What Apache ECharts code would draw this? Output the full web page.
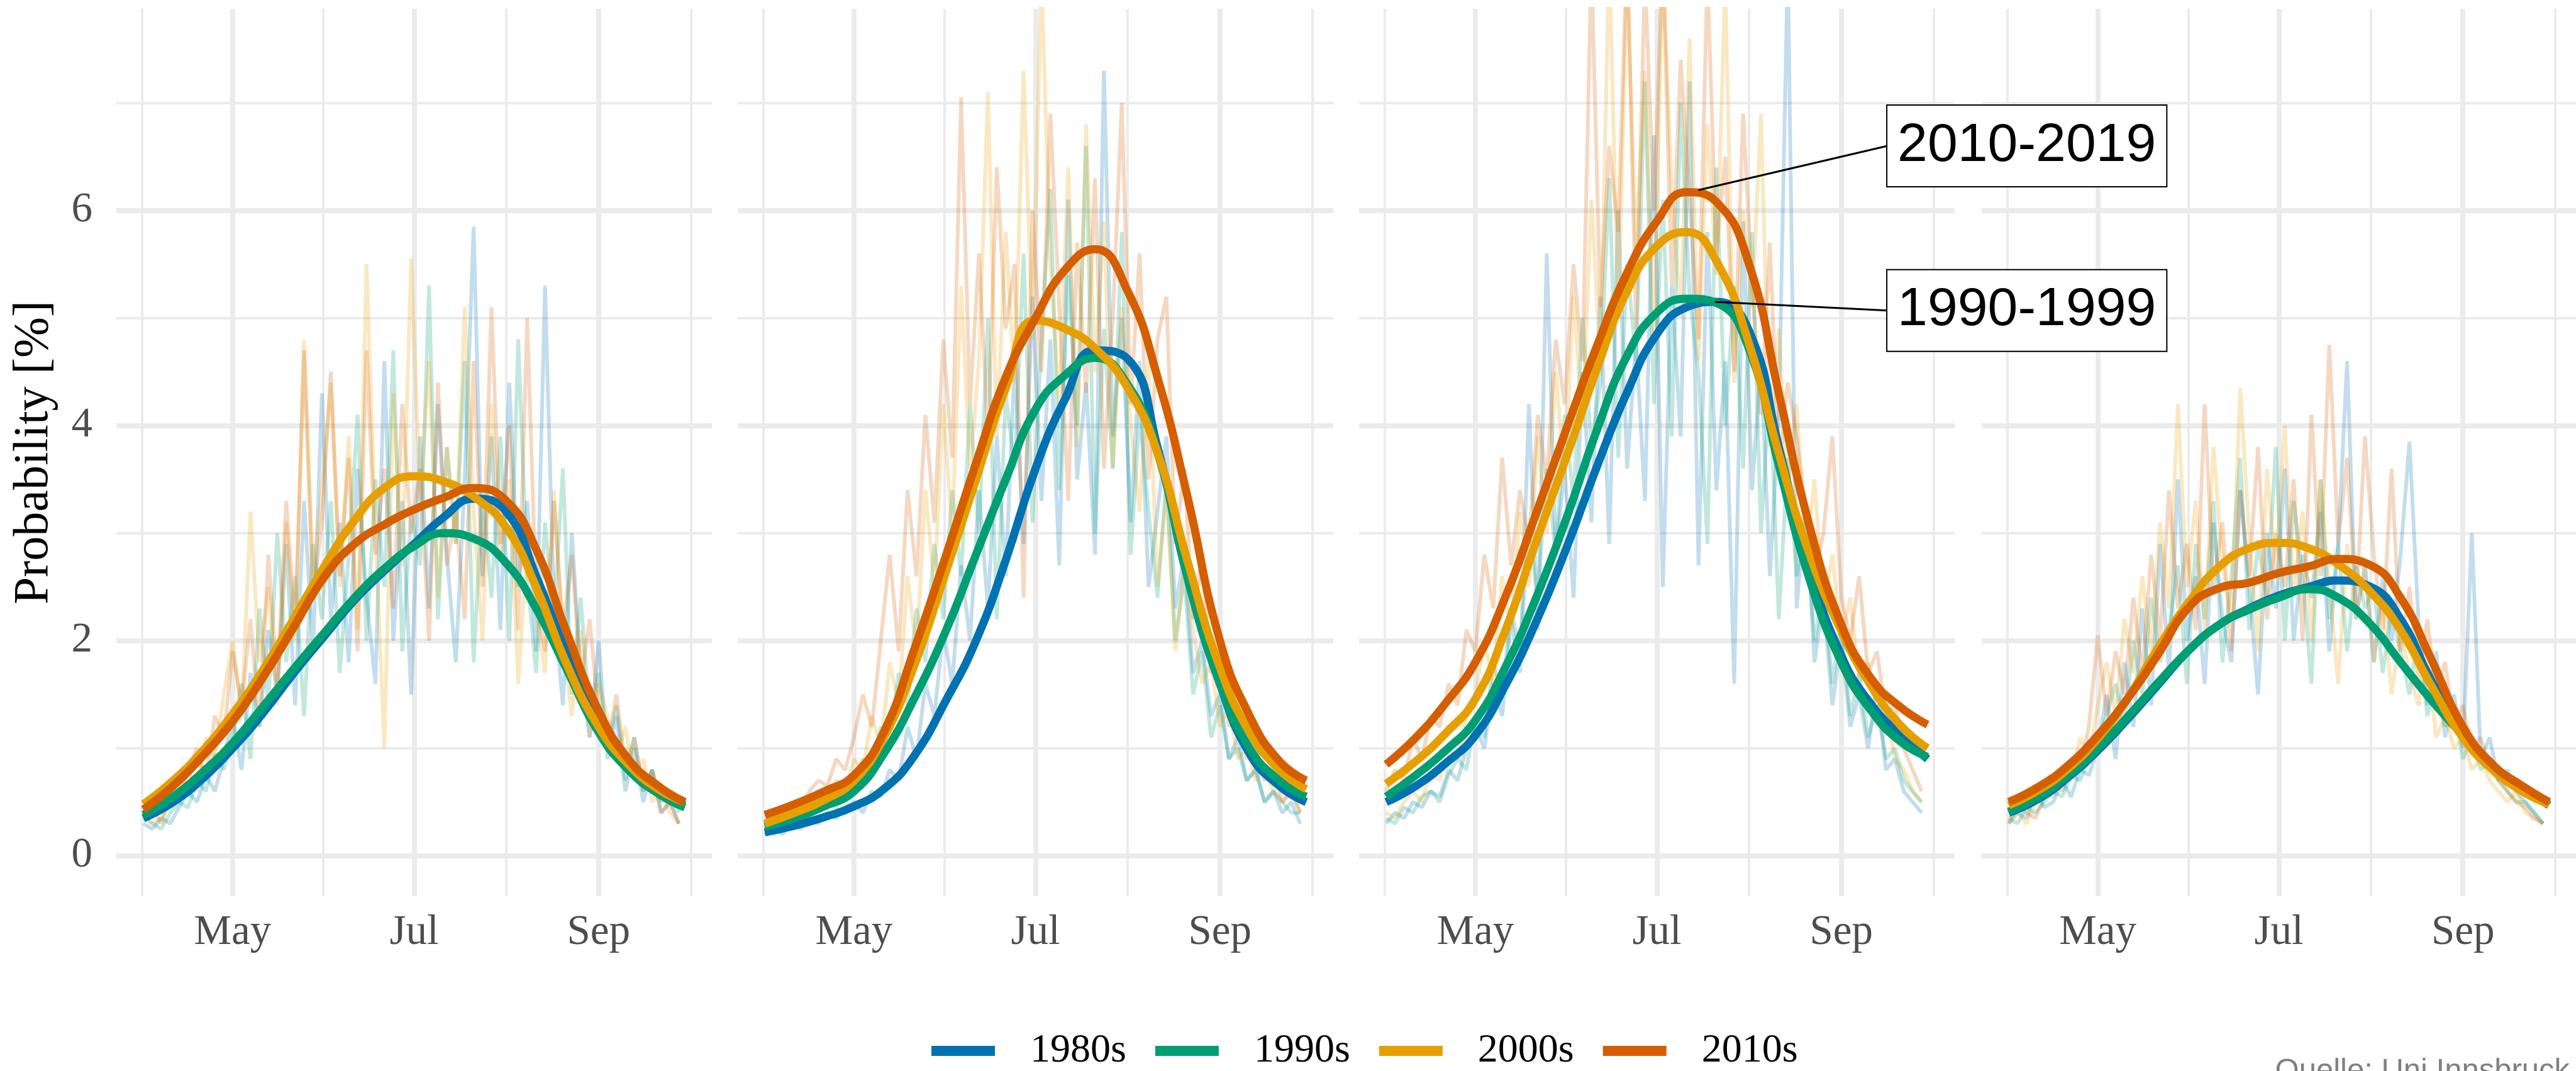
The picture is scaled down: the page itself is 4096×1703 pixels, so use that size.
<!DOCTYPE html>
<html>
<head>
<meta charset="utf-8">
<script src="https://cdn.jsdelivr.net/npm/echarts@6/dist/echarts.min.js"></script>
<style>
  html, body { margin: 0; padding: 0; background: #fff; }
  #chart { width: 4096px; height: 1703px; }
</style>
</head>
<body>
<div id="chart"></div>
<script>
// decades and their colours (Okabe-Ito)
var decades = ['1980s', '1990s', '2000s', '2010s'];
var decadeColors = ['#0072B2', '#009E73', '#E69F00', '#D55E00'];

// x axis = day of year; labelled months and the in-between gridlines
var majorDays = [121, 182, 244];
var minorDays = [90.5, 151.5, 213, 275];
var monthLabels = { 121: 'May', 182: 'Jul', 244: 'Sep' };
var majorProb = [0, 2, 4, 6];
var minorProb = [1, 3, 5, 7];

// smoothed curves
var smoothDays = [91, 101, 111, 121, 131, 141, 152, 162, 172, 182, 192, 202, 213, 223, 233, 244, 254, 264, 273];

var p1Smooth1980s = [0.35, 0.5, 0.72, 1.0, 1.32, 1.68, 2.05, 2.38, 2.65, 2.9, 3.15, 3.32, 3.2, 2.6, 1.9, 1.2, 0.85, 0.6, 0.47];
var p1Smooth1990s = [0.38, 0.55, 0.78, 1.05, 1.38, 1.72, 2.08, 2.4, 2.67, 2.88, 3.0, 2.95, 2.72, 2.3, 1.75, 1.15, 0.8, 0.58, 0.45];
var p1Smooth2000s = [0.48, 0.7, 0.98, 1.32, 1.72, 2.18, 2.7, 3.12, 3.42, 3.53, 3.48, 3.34, 3.05, 2.5, 1.8, 1.2, 0.85, 0.62, 0.5];
var p1Smooth2010s = [0.43, 0.65, 0.93, 1.25, 1.65, 2.1, 2.6, 2.9, 3.08, 3.22, 3.33, 3.42, 3.3, 2.85, 2.1, 1.35, 0.9, 0.65, 0.5];

var p2Smooth1980s = [0.22, 0.28, 0.36, 0.46, 0.62, 0.92, 1.45, 2.0, 2.75, 3.6, 4.25, 4.7, 4.62, 3.8, 2.6, 1.6, 0.95, 0.65, 0.5];
var p2Smooth1990s = [0.27, 0.35, 0.46, 0.6, 0.95, 1.45, 2.1, 2.8, 3.5, 4.15, 4.47, 4.63, 4.38, 3.75, 2.6, 1.6, 1.0, 0.7, 0.55];
var p2Smooth2000s = [0.3, 0.4, 0.52, 0.7, 1.1, 1.75, 2.65, 3.5, 4.35, 4.98, 4.9, 4.72, 4.35, 3.75, 2.75, 1.75, 1.15, 0.8, 0.62];
var p2Smooth2010s = [0.38, 0.48, 0.6, 0.75, 1.15, 1.9, 2.8, 3.65, 4.45, 5.0, 5.45, 5.64, 5.25, 4.45, 3.35, 2.0, 1.3, 0.88, 0.7];

var p3Smooth1980s = [0.5, 0.65, 0.86, 1.12, 1.58, 2.15, 2.89, 3.63, 4.31, 4.85, 5.1, 5.15, 4.88, 3.8, 2.71, 1.86, 1.41, 1.12, 0.9];
var p3Smooth1990s = [0.55, 0.75, 0.98, 1.26, 1.75, 2.37, 3.17, 3.97, 4.65, 5.05, 5.18, 5.14, 4.71, 3.63, 2.6, 1.8, 1.35, 1.06, 0.92];
var p3Smooth2000s = [0.67, 0.88, 1.14, 1.46, 2.09, 2.89, 3.74, 4.54, 5.25, 5.67, 5.8, 5.53, 4.76, 3.74, 2.83, 2.09, 1.58, 1.21, 1.0];
var p3Smooth2010s = [0.85, 1.1, 1.42, 1.8, 2.4, 3.15, 4.0, 4.75, 5.42, 5.9, 6.17, 6.08, 5.5, 4.3, 3.1, 2.15, 1.65, 1.38, 1.22];

var p4Smooth1980s = [0.4, 0.53, 0.73, 0.98, 1.27, 1.58, 1.92, 2.15, 2.3, 2.42, 2.5, 2.56, 2.5, 2.2, 1.65, 1.15, 0.82, 0.62, 0.48];
var p4Smooth1990s = [0.41, 0.55, 0.75, 1.0, 1.29, 1.6, 1.92, 2.15, 2.29, 2.4, 2.48, 2.4, 2.15, 1.8, 1.46, 1.12, 0.84, 0.64, 0.47];
var p4Smooth2000s = [0.47, 0.61, 0.81, 1.09, 1.46, 1.92, 2.37, 2.69, 2.86, 2.91, 2.86, 2.71, 2.45, 2.1, 1.6, 1.1, 0.8, 0.6, 0.48];
var p4Smooth2010s = [0.5, 0.64, 0.84, 1.12, 1.46, 1.86, 2.32, 2.49, 2.54, 2.63, 2.69, 2.76, 2.7, 2.4, 1.85, 1.2, 0.85, 0.65, 0.5];

// daily values (faint lines), estimated every third day
var rawDays = [91, 94, 97, 100, 103, 106, 109, 112, 115, 118, 121, 124, 127, 130, 133, 136, 139, 142, 145, 148,
  151, 154, 157, 160, 163, 166, 169, 172, 175, 178, 181, 184, 187, 190, 193, 196, 199, 202, 205, 208,
  211, 214, 217, 220, 223, 226, 229, 232, 235, 238, 241, 244, 247, 250, 253, 256, 259, 262, 265, 268, 271];

var p1Raw1980s = [0.3, 0.25, 0.35, 0.3, 0.45, 0.6, 0.5, 0.75, 0.6, 0.9,
  1.3, 0.8, 1.7, 1.2, 2.1, 1.5, 2.9, 1.4, 3.3, 1.9, 4.3,
  2.2, 3.1, 1.8, 3.6, 2.4, 1.6, 4.6, 2.0, 3.3, 1.5,
  3.9, 2.3, 4.2, 2.8, 1.8, 3.5, 5.85, 2.6, 3.9, 2.1,
  4.4, 2.5, 3.3, 1.9, 5.3, 2.3, 1.4, 3.0, 1.7, 1.1,
  2.0, 0.9, 1.3, 0.6, 1.0, 0.5, 0.8, 0.4, 0.5, 0.3];
var p1Raw1990s = [0.35, 0.3, 0.25, 0.4, 0.5, 0.45, 0.7, 0.6, 0.95, 0.8,
  1.1, 1.6, 0.9, 2.3, 1.4, 3.0, 1.8, 2.6, 1.3, 2.9, 2.2,
  3.3, 1.7, 2.8, 4.1, 2.0, 3.5, 2.5, 4.7, 1.9, 3.2,
  2.7, 5.3, 2.2, 3.8, 2.9, 4.6, 1.8, 3.4, 2.4, 3.9,
  2.0, 4.8, 2.6, 1.7, 3.1, 2.2, 3.6, 1.5, 2.4, 1.3,
  1.7, 1.0, 1.4, 0.7, 1.1, 0.6, 0.8, 0.5, 0.6, 0.4];
var p1Raw2000s = [0.4, 0.3, 0.35, 0.5, 0.6, 0.8, 0.6, 1.1, 0.9, 1.5,
  2.0, 1.3, 3.2, 1.8, 2.5, 1.4, 3.1, 2.0, 4.8, 2.6, 3.4,
  4.4, 2.5, 3.9, 2.1, 5.5, 3.0, 1.0, 4.3, 2.7, 5.55,
  3.3, 4.6, 2.4, 3.8, 2.9, 5.1, 3.2, 2.0, 4.2, 2.8,
  3.5, 1.6, 2.9, 2.3, 1.7, 3.4, 2.0, 1.3, 2.1, 1.1,
  1.6, 1.3, 0.9, 1.2, 0.7, 0.9, 0.5, 0.6, 0.4, 0.3];
var p1Raw2010s = [0.35, 0.45, 0.3, 0.55, 0.5, 0.8, 1.0, 0.7, 1.3, 1.1,
  1.9, 1.4, 2.2, 1.2, 2.8, 1.6, 3.3, 2.1, 4.7, 2.4, 3.1,
  4.5, 2.6, 3.7, 1.9, 4.7, 2.8, 3.6, 2.3, 4.2, 3.0,
  3.6, 2.0, 4.4, 2.7, 3.2, 2.2, 4.6, 2.5, 5.1, 2.9,
  4.0, 2.1, 5.0, 2.4, 1.9, 3.3, 2.1, 2.8, 1.6, 2.2,
  1.3, 1.0, 1.5, 0.8, 1.1, 0.6, 0.8, 0.4, 0.5, 0.3];

var p2Raw1980s = [0.2, 0.25, 0.2, 0.3, 0.25, 0.35, 0.3, 0.4, 0.35, 0.45,
  0.5, 0.4, 0.6, 0.55, 0.8, 0.7, 1.2, 0.9, 1.6, 1.3, 2.1,
  1.6, 2.7, 2.0, 3.4, 2.3, 3.9, 2.6, 4.6, 2.9, 5.2,
  3.3, 4.8, 2.7, 6.1, 3.5, 4.4, 2.8, 7.3, 3.9, 5.0,
  3.1, 4.6, 2.5, 3.2, 3.9, 2.3, 2.8, 1.7, 2.0, 1.3,
  1.5, 0.9, 1.1, 0.7, 0.8, 0.5, 0.6, 0.4, 0.5, 0.3];
var p2Raw1990s = [0.25, 0.2, 0.3, 0.35, 0.3, 0.4, 0.45, 0.5, 0.45, 0.6,
  0.7, 0.9, 0.75, 1.2, 1.0, 1.7, 1.4, 2.3, 1.8, 2.9, 2.2,
  3.4, 2.6, 4.2, 3.0, 5.0, 2.2, 4.3, 3.6, 5.6, 3.1,
  4.8, 6.2, 3.4, 5.4, 4.0, 6.6, 3.0, 4.9, 3.6, 5.8,
  2.8, 4.1, 3.2, 2.4, 3.5, 2.0, 2.6, 1.5, 1.9, 1.1,
  1.4, 0.9, 1.0, 0.7, 0.8, 0.5, 0.6, 0.5, 0.4, 0.4];
var p2Raw2000s = [0.3, 0.25, 0.35, 0.3, 0.45, 0.4, 0.55, 0.5, 0.7, 0.6,
  0.9, 0.8, 1.3, 1.0, 1.8, 1.4, 2.6, 1.9, 3.4, 2.5, 4.2,
  3.0, 5.3, 3.6, 4.6, 7.1, 3.9, 5.8, 4.4, 7.3, 4.8,
  8.2, 5.5, 4.2, 6.4, 3.8, 6.8, 4.5, 5.9, 3.6, 5.1,
  4.0, 3.2, 4.6, 2.5, 3.4, 1.9, 2.7, 2.1, 1.6, 1.8,
  1.2, 1.4, 0.9, 1.0, 0.7, 0.8, 0.6, 0.5, 0.6, 0.4];
var p2Raw2010s = [0.3, 0.4, 0.35, 0.5, 0.45, 0.6, 0.7, 0.65, 0.9, 0.8,
  1.1, 1.5, 1.2, 2.0, 2.8, 1.9, 3.4, 2.6, 4.1, 3.1, 4.8,
  3.7, 7.05, 4.2, 5.6, 3.9, 6.4, 4.9, 5.5, 2.4, 6.0,
  4.5, 6.9, 5.1, 3.3, 5.7, 4.3, 6.3, 3.6, 5.0, 7.0,
  4.2, 5.6, 3.5, 4.8, 5.2, 2.9, 3.6, 2.2, 2.8, 1.7,
  1.9, 1.2, 1.4, 0.9, 1.0, 0.7, 0.8, 0.5, 0.6, 0.4];

var p3Raw1980s = [0.3, 0.4, 0.35, 0.5, 0.45, 0.6, 0.55, 0.8, 0.7, 1.0,
  1.2, 1.0, 1.6, 1.3, 2.2, 1.7, 4.2, 2.1, 5.6, 2.8, 3.6,
  2.4, 4.5, 3.1, 5.2, 2.9, 6.0, 3.6, 4.8, 3.3, 6.7,
  2.5, 5.3, 3.9, 7.2, 2.7, 5.8, 3.4, 4.6, 1.6, 5.9,
  3.4, 4.6, 2.6, 4.1, 8.3, 2.3, 3.3, 1.8, 2.4, 1.4,
  2.0, 1.2, 1.5, 1.0, 1.6, 0.8, 0.9, 0.6, 0.5, 0.4];
var p3Raw1990s = [0.35, 0.3, 0.45, 0.4, 0.55, 0.6, 0.5, 0.75, 0.9, 0.8,
  1.3, 1.1, 1.8, 1.5, 2.3, 1.9, 3.0, 2.4, 3.6, 2.8, 4.1,
  3.3, 5.0, 3.8, 4.4, 6.3, 3.7, 5.5, 4.6, 7.2, 4.2,
  6.1, 3.9, 7.0, 5.2, 4.5, 2.9, 6.4, 4.0, 5.3, 3.6,
  5.8, 3.0, 4.4, 2.2, 3.7, 2.6, 3.1, 2.0, 2.5, 1.6,
  2.2, 1.3, 1.7, 1.1, 1.4, 0.9, 1.0, 0.7, 0.6, 0.5];
var p3Raw2000s = [0.4, 0.35, 0.5, 0.6, 0.5, 0.8, 0.7, 1.0, 0.9, 1.3,
  1.5, 2.0, 1.6, 2.6, 2.1, 3.2, 2.5, 3.9, 3.0, 4.5, 3.5,
  5.2, 4.0, 6.1, 4.6, 8.4, 5.0, 8.2, 5.6, 7.3, 4.8,
  8.3, 6.2, 5.0, 7.6, 4.6, 6.8, 5.4, 8.1, 4.4, 6.0,
  5.1, 6.9, 3.8, 4.9, 3.4, 4.2, 2.7, 3.5, 2.3, 2.8,
  2.0, 2.4, 1.6, 1.8, 1.2, 1.4, 0.9, 0.8, 0.6, 0.5];
var p3Raw2010s = [0.6, 0.8, 0.7, 1.1, 0.9, 1.3, 1.2, 1.6, 1.4, 2.1,
  1.9, 2.8, 2.3, 3.7, 2.7, 3.4, 2.9, 4.1, 3.5, 4.8, 4.2,
  5.5, 4.6, 8.3, 5.1, 6.6, 5.8, 8.5, 4.9, 8.2, 6.0,
  8.4, 5.3, 7.4, 6.1, 4.8, 8.2, 5.6, 6.5, 4.5, 6.9,
  5.3, 4.1, 5.7, 3.6, 4.4, 3.9, 3.2, 2.6, 3.0, 3.9,
  2.4, 2.0, 2.6, 1.7, 1.9, 1.3, 1.4, 1.0, 0.8, 0.6];

var p4Raw1980s = [0.3, 0.4, 0.35, 0.6, 0.45, 0.5, 0.7, 0.55, 0.8, 0.75,
  1.0, 1.5, 0.9, 1.8, 1.2, 2.3, 1.4, 2.9, 1.7, 3.5, 2.0,
  2.6, 1.6, 3.1, 2.2, 1.8, 3.4, 2.5, 1.5, 3.0, 2.3,
  3.6, 2.0, 2.8, 2.4, 3.2, 1.9, 2.9, 4.6, 2.2, 2.7,
  1.8, 2.6, 2.0, 2.8, 3.85, 2.2, 1.4, 1.9, 1.1, 1.5,
  1.0, 3.0, 0.9, 1.1, 0.7, 0.8, 0.6, 0.5, 0.4, 0.3];
var p4Raw1990s = [0.35, 0.3, 0.45, 0.4, 0.5, 0.6, 0.55, 0.75, 0.7, 0.9,
  1.1, 1.3, 1.6, 1.2, 2.0, 1.5, 2.4, 1.8, 2.1, 2.7, 1.6,
  2.9, 2.2, 3.3, 1.8, 2.6, 3.7, 2.1, 2.9, 2.4, 3.8,
  2.0, 3.3, 2.6, 1.6, 3.5, 2.2, 2.9, 1.9, 2.7, 2.3,
  2.5, 1.7, 2.3, 1.9, 1.5, 2.1, 1.3, 1.6, 1.2, 1.4,
  0.9, 1.1, 0.8, 0.9, 0.7, 0.6, 0.5, 0.5, 0.4, 0.3];
var p4Raw2000s = [0.35, 0.4, 0.3, 0.5, 0.6, 0.55, 0.8, 0.7, 1.1, 0.9,
  1.4, 1.8, 1.3, 2.2, 1.7, 2.6, 1.9, 3.1, 2.3, 4.2, 2.5,
  3.3, 2.1, 3.8, 2.7, 2.2, 4.35, 3.0, 1.9, 3.6, 2.6,
  4.0, 2.4, 3.2, 2.0, 3.5, 2.5, 1.6, 2.9, 2.2, 2.7,
  1.8, 2.4, 1.5, 2.1, 1.7, 1.4, 1.9, 1.1, 1.3, 1.0,
  1.1, 0.8, 0.9, 0.7, 0.6, 0.5, 0.6, 0.4, 0.35, 0.3];
var p4Raw2010s = [0.3, 0.45, 0.4, 0.35, 0.55, 0.7, 0.6, 0.9, 0.8, 1.2,
  2.05, 1.3, 1.9, 1.5, 2.4, 1.7, 2.8, 2.0, 3.4, 2.3, 2.9,
  2.1, 4.2, 2.5, 3.1, 1.9, 3.4, 2.6, 3.8, 2.2, 3.0,
  2.5, 3.5, 2.0, 4.1, 2.6, 4.75, 2.9, 3.7, 2.3, 3.9,
  2.8, 2.1, 3.6, 1.9, 2.5, 1.6, 2.2, 1.5, 1.8, 1.2,
  1.4, 1.0, 1.1, 0.8, 0.7, 0.6, 0.5, 0.45, 0.35, 0.3];

// labelled peaks in the third panel
var annLabels = ['2010-2019', '1990-1999'];
var annAnchorDay = [196, 201.6];
var annAnchorProb = [6.19, 5.15];
var annBoxDay = [259.5, 259.5];
var annBoxProb = [6.6, 5.07];

var panelSmooth = [
  [p1Smooth1980s, p1Smooth1990s, p1Smooth2000s, p1Smooth2010s],
  [p2Smooth1980s, p2Smooth1990s, p2Smooth2000s, p2Smooth2010s],
  [p3Smooth1980s, p3Smooth1990s, p3Smooth2000s, p3Smooth2010s],
  [p4Smooth1980s, p4Smooth1990s, p4Smooth2000s, p4Smooth2010s]
];
var panelRaw = [
  [p1Raw1980s, p1Raw1990s, p1Raw2000s, p1Raw2010s],
  [p2Raw1980s, p2Raw1990s, p2Raw2000s, p2Raw2010s],
  [p3Raw1980s, p3Raw1990s, p3Raw2000s, p3Raw2010s],
  [p4Raw1980s, p4Raw1990s, p4Raw2000s, p4Raw2010s]
];

var gridLefts = [185, 1173, 2161, 3151];
var gridColor = '#ebebeb';

var chart = echarts.init(document.getElementById('chart'));

var grids = [], xAxes = [], yAxes = [], series = [];

gridLefts.forEach(function (left, p) {
  grids.push({ left: left, top: 14, width: 947, height: 1411 });

  // major x axis (labels + thick gridlines)
  xAxes.push({
    type: 'value', gridIndex: p, min: 81.9, max: 282.1,
    axisLine: { show: false, onZero: false },
    axisTick: { show: false, customValues: majorDays },
    axisLabel: {
      customValues: majorDays,
      formatter: function (v) { return monthLabels[v] || ''; },
      margin: 25, fontSize: 67, color: '#4d4d4d', fontFamily: 'Liberation Serif'
    },
    splitLine: { show: true, lineStyle: { color: gridColor, width: 8 } }
  });
  // minor x axis (thin gridlines only)
  xAxes.push({
    type: 'value', gridIndex: p, min: 81.9, max: 282.1,
    axisLine: { show: false, onZero: false },
    axisTick: { show: false, customValues: minorDays },
    axisLabel: { show: false },
    splitLine: { show: true, lineStyle: { color: gridColor, width: 4 } }
  });

  yAxes.push({
    type: 'value', gridIndex: p, min: -0.375, max: 7.875,
    axisLine: { show: false, onZero: false },
    axisTick: { show: false, customValues: majorProb },
    axisLabel: {
      show: p === 0, customValues: majorProb,
      margin: 38, fontSize: 67, color: '#4d4d4d', fontFamily: 'Liberation Serif'
    },
    splitLine: { show: true, lineStyle: { color: gridColor, width: 8 } },
    name: p === 0 ? 'Probability [%]' : '',
    nameLocation: 'middle', nameGap: 91,
    nameTextStyle: { fontSize: 78, color: '#000', fontFamily: 'Liberation Serif' }
  });
  yAxes.push({
    type: 'value', gridIndex: p, min: -0.375, max: 7.875,
    axisLine: { show: false, onZero: false },
    axisTick: { show: false, customValues: minorProb },
    axisLabel: { show: false },
    splitLine: { show: true, lineStyle: { color: gridColor, width: 4 } }
  });

  // faint daily lines
  decades.forEach(function (d, k) {
    series.push({
      type: 'line', name: d + ' daily',
      xAxisIndex: 2 * p, yAxisIndex: 2 * p,
      data: rawDays.map(function (x, i) { return [x, panelRaw[p][k][i]]; }),
      symbol: 'none', silent: true, clip: true, z: 2,
      lineStyle: { color: decadeColors[k], width: 6, opacity: 0.24 },
      itemStyle: { color: decadeColors[k] }
    });
  });
  // smoothed curves
  decades.forEach(function (d, k) {
    series.push({
      type: 'line', name: d,
      xAxisIndex: 2 * p, yAxisIndex: 2 * p,
      data: smoothDays.map(function (x, i) { return [x, panelSmooth[p][k][i]]; }),
      smooth: true, symbol: 'none', clip: true, z: 3,
      lineStyle: { color: decadeColors[k], width: 13 },
      itemStyle: { color: decadeColors[k] }
    });
  });
});

var option = {
  animation: false,
  backgroundColor: '#fff',
  title: {
    text: 'Quelle: Uni Innsbruck', right: 10, top: 1679, padding: 0,
    textStyle: { fontSize: 49, fontWeight: 'normal', color: '#808080', fontFamily: 'Liberation Sans' }
  },
  legend: {
    data: decades, left: 1476, top: 1634,
    icon: 'rect', itemWidth: 101, itemHeight: 16, itemGap: 46,
    textStyle: { fontSize: 64, color: '#000', fontFamily: 'Liberation Serif', padding: [0, 0, 0, 51] }
  },
  grid: grids,
  xAxis: xAxes,
  yAxis: yAxes,
  series: series
};

chart.setOption(option);

// annotation boxes with leader lines, placed through the third panel's scales
var annGraphics = [];
annLabels.forEach(function (label, i) {
  var a = chart.convertToPixel({ xAxisIndex: 4, yAxisIndex: 4 }, [annAnchorDay[i], annAnchorProb[i]]);
  var b = chart.convertToPixel({ xAxisIndex: 4, yAxisIndex: 4 }, [annBoxDay[i], annBoxProb[i]]);
  annGraphics.push({
    type: 'line', z: 100,
    shape: { x1: a[0], y1: a[1], x2: b[0], y2: b[1] },
    style: { stroke: '#000', lineWidth: 3 }
  });
  annGraphics.push({
    type: 'text', z: 101, x: b[0], y: b[1],
    style: {
      text: label, fontSize: 86, fontFamily: 'Liberation Sans', fill: '#000',
      align: 'left', verticalAlign: 'middle', lineHeight: 86,
      backgroundColor: '#fff', borderColor: '#000', borderWidth: 2, padding: [21, 16, 21, 16]
    }
  });
});
chart.setOption({ graphic: annGraphics });
</script>
</body>
</html>
